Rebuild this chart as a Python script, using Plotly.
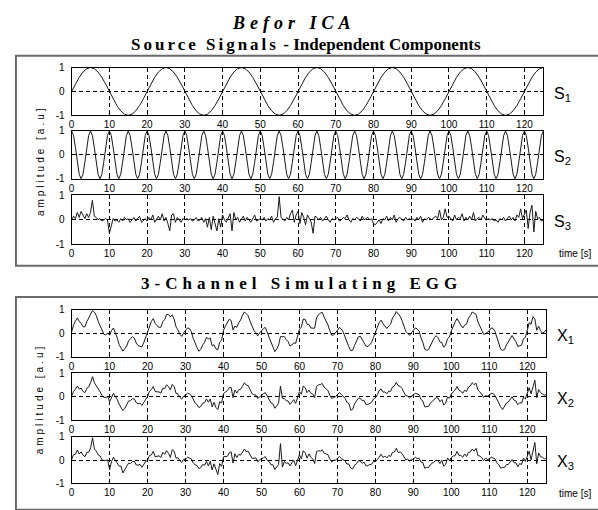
import plotly.graph_objects as go

W, H = 598, 510

# ---------------- data ----------------
t_coarse = [i for i in range(126)]          # s, 1 s step (S1)
t_fine = [i / 2 for i in range(251)]         # s, 0.5 s step (others)

s1 = [0, 0.31, 0.59, 0.81, 0.95, 1, 0.95, 0.81, 0.59, 0.31, 0, -0.31, -0.59, -0.81, -0.95, -1, -0.95, -0.81, -0.59, -0.31,
      0, 0.31, 0.59, 0.81, 0.95, 1, 0.95, 0.81, 0.59, 0.31, 0, -0.31, -0.59, -0.81, -0.95, -1, -0.95, -0.81, -0.59, -0.31,
      0, 0.31, 0.59, 0.81, 0.95, 1, 0.95, 0.81, 0.59, 0.31, 0, -0.31, -0.59, -0.81, -0.95, -1, -0.95, -0.81, -0.59, -0.31,
      0, 0.31, 0.59, 0.81, 0.95, 1, 0.95, 0.81, 0.59, 0.31, 0, -0.31, -0.59, -0.81, -0.95, -1, -0.95, -0.81, -0.59, -0.31,
      0, 0.31, 0.59, 0.81, 0.95, 1, 0.95, 0.81, 0.59, 0.31, 0, -0.31, -0.59, -0.81, -0.95, -1, -0.95, -0.81, -0.59, -0.31,
      0, 0.31, 0.59, 0.81, 0.95, 1, 0.95, 0.81, 0.59, 0.31, 0, -0.31, -0.59, -0.81, -0.95, -1, -0.95, -0.81, -0.59, -0.31,
      0, 0.31, 0.59, 0.81, 0.95, 1]

s2 = [1, 0.81, 0.31, -0.31, -0.81, -1, -0.81, -0.31, 0.31, 0.81, 1, 0.81, 0.31, -0.31, -0.81, -1, -0.81, -0.31, 0.31, 0.81,
      1, 0.81, 0.31, -0.31, -0.81, -1, -0.81, -0.31, 0.31, 0.81, 1, 0.81, 0.31, -0.31, -0.81, -1, -0.81, -0.31, 0.31, 0.81,
      1, 0.81, 0.31, -0.31, -0.81, -1, -0.81, -0.31, 0.31, 0.81, 1, 0.81, 0.31, -0.31, -0.81, -1, -0.81, -0.31, 0.31, 0.81,
      1, 0.81, 0.31, -0.31, -0.81, -1, -0.81, -0.31, 0.31, 0.81, 1, 0.81, 0.31, -0.31, -0.81, -1, -0.81, -0.31, 0.31, 0.81,
      1, 0.81, 0.31, -0.31, -0.81, -1, -0.81, -0.31, 0.31, 0.81, 1, 0.81, 0.31, -0.31, -0.81, -1, -0.81, -0.31, 0.31, 0.81,
      1, 0.81, 0.31, -0.31, -0.81, -1, -0.81, -0.31, 0.31, 0.81, 1, 0.81, 0.31, -0.31, -0.81, -1, -0.81, -0.31, 0.31, 0.81,
      1, 0.81, 0.31, -0.31, -0.81, -1, -0.81, -0.31, 0.31, 0.81, 1, 0.81, 0.31, -0.31, -0.81, -1, -0.81, -0.31, 0.31, 0.81,
      1, 0.81, 0.31, -0.31, -0.81, -1, -0.81, -0.31, 0.31, 0.81, 1, 0.81, 0.31, -0.31, -0.81, -1, -0.81, -0.31, 0.31, 0.81,
      1, 0.81, 0.31, -0.31, -0.81, -1, -0.81, -0.31, 0.31, 0.81, 1, 0.81, 0.31, -0.31, -0.81, -1, -0.81, -0.31, 0.31, 0.81,
      1, 0.81, 0.31, -0.31, -0.81, -1, -0.81, -0.31, 0.31, 0.81, 1, 0.81, 0.31, -0.31, -0.81, -1, -0.81, -0.31, 0.31, 0.81,
      1, 0.81, 0.31, -0.31, -0.81, -1, -0.81, -0.31, 0.31, 0.81, 1, 0.81, 0.31, -0.31, -0.81, -1, -0.81, -0.31, 0.31, 0.81,
      1, 0.81, 0.31, -0.31, -0.81, -1, -0.81, -0.31, 0.31, 0.81, 1, 0.81, 0.31, -0.31, -0.81, -1, -0.81, -0.31, 0.31, 0.81,
      1, 0.81, 0.31, -0.31, -0.81, -1, -0.81, -0.31, 0.31, 0.81,
      1]

s3 = [0.0, 0.15, 0.05, 0.3, 0.1, 0.35, 0.2, 0.05, 0.25, 0.1, 0.3, 0.8, 0.15, 0.1, 0.0, 0.05, -0.05, 0.0, 0.05, 0.0,
      -0.55, -0.25, 0.05, -0.05, 0.0, -0.1, 0.05, -0.05, 0.1, 0.0, 0.05, -0.1, 0.0, 0.1, -0.05, 0.05, 0.15, -0.1, 0.0, 0.05,
      -0.05, 0.1, 0.0, 0.2, -0.1, 0.05, 0.15, 0.0, 0.25, -0.05, 0.1, -0.15, -0.45, 0.2, 0.25, -0.1, 0.1, 0.0, -0.1, 0.05,
      0.0, 0.05, 0.0, 0.05, -0.05, 0.0, 0.1, -0.05, 0.0, 0.1, -0.1, 0.05, -0.3, 0.1, -0.4, 0.15, -0.2, -0.45, 0.05, -0.3,
      0.2, 0.0, -0.1, 0.1, 0.25, -0.45, 0.3, 0.0, 0.1, -0.1, 0.05, 0.15, -0.05, 0.1, 0.0, -0.1, 0.05, 0.2, -0.05, 0.0,
      0.05, 0.0, 0.1, -0.05, 0.05, 0.0, 0.15, -0.1, 0.05, 0.1, 0.95, 0.1, 0.0, -0.05, 0.1, 0.0, 0.25, 0.4, -0.1, 0.2,
      0.35, -0.15, 0.3, 0.1, -0.2, 0.2, 0.05, -0.1, -0.55, 0.15, 0.1, 0.0, 0.1, -0.05, 0.05, 0.15, 0.0, -0.1, 0.05, 0.0,
      0.05, 0.1, -0.05, 0.0, 0.1, 0.05, 0.2, 0.0, -0.1, 0.05, 0.0, 0.1, 0.05, -0.05, 0.15, 0.0, 0.05, 0.1, 0.0, 0.05,
      -0.15, -0.2, -0.1, 0.0, -0.15, 0.05, 0.0, 0.15, -0.05, 0.1, 0.0, 0.2, -0.1, 0.05, 0.1, 0.0, -0.05, 0.1, 0.0, 0.05,
      0.0, 0.05, -0.05, 0.1, 0.0, 0.15, -0.1, 0.05, 0.0, 0.1, 0.05, 0.0, 0.1, 0.15, 0.05, 0.4, 0.0, 0.1, 0.45, 0.1,
      0.15, 0.05, -0.05, 0.2, 0.0, 0.1, 0.05, 0.25, -0.05, 0.1, 0.0, 0.15, 0.0, 0.3, -0.05, 0.05, 0.1, 0.0, 0.2, 0.05,
      0.0, 0.05, 0.0, 0.05, -0.05, 0.0, -0.1, 0.05, 0.0, 0.1, -0.05, 0.05, 0.15, 0.0, 0.1, -0.05, 0.2, 0.1, 0.45, 0.05,
      0.2, 0.4, -0.35, 0.3, 0.6, -0.5, 0.35, 0.05, 0.1, -0.05, 0.0]

x1 = [0.05, 0.35, 0.52, 0.65, 0.49, 0.42, 0.27, 0.27, 0.49, 0.64, 0.85, 0.97, 0.9, 0.74, 0.5, 0.32, 0.08, -0.05, -0.08, 0.0,
      -0.09, 0.11, 0.22, 0.03, -0.2, -0.49, -0.63, -0.77, -0.66, -0.55, -0.33, -0.24, -0.15, -0.21, -0.42, -0.53, -0.55, -0.59, -0.4, -0.18,
      0.03, 0.34, 0.5, 0.62, 0.41, 0.32, 0.25, 0.25, 0.49, 0.58, 0.79, 0.8, 0.69, 0.77, 0.59, 0.26, 0.14, -0.05, -0.14, 0.02,
      0.1, 0.22, 0.2, 0.07, -0.22, -0.45, -0.61, -0.77, -0.7, -0.51, -0.39, -0.18, -0.25, -0.21, -0.54, -0.5, -0.67, -0.71, -0.38, -0.3,
      0.12, 0.3, 0.46, 0.59, 0.54, 0.14, 0.3, 0.25, 0.44, 0.56, 0.77, 0.9, 0.83, 0.74, 0.5, 0.26, 0.12, 0.02, -0.12, 0.0,
      0.12, 0.2, 0.24, 0.03, -0.18, -0.45, -0.6, -0.79, -0.68, -0.51, -0.15, -0.16, -0.15, -0.27, -0.36, -0.55, -0.51, -0.41, -0.44, -0.13,
      0.17, 0.25, 0.6, 0.59, 0.38, 0.37, 0.22, 0.21, 0.21, 0.65, 0.79, 0.85, 0.89, 0.68, 0.52, 0.35, 0.1, -0.09, -0.08, 0.0,
      0.12, 0.24, 0.18, 0.05, -0.16, -0.43, -0.58, -0.75, -0.74, -0.53, -0.35, -0.16, -0.13, -0.27, -0.35, -0.55, -0.58, -0.51, -0.4, -0.18,
      0.0, 0.23, 0.46, 0.55, 0.4, 0.32, 0.2, 0.3, 0.38, 0.64, 0.75, 0.92, 0.81, 0.72, 0.54, 0.3, 0.08, -0.01, -0.1, 0.02,
      0.1, 0.22, 0.18, 0.09, -0.2, -0.4, -0.69, -0.73, -0.7, -0.51, -0.33, -0.2, -0.11, -0.2, -0.38, -0.41, -0.6, -0.51, -0.24, -0.16,
      0.1, 0.32, 0.48, 0.62, 0.45, 0.34, 0.22, 0.34, 0.38, 0.64, 0.75, 0.9, 0.85, 0.8, 0.48, 0.32, 0.14, -0.05, -0.03, 0.02,
      0.1, 0.22, 0.2, 0.07, -0.22, -0.45, -0.69, -0.73, -0.7, -0.51, -0.37, -0.18, -0.1, -0.25, -0.36, -0.57, -0.53, -0.51, -0.24, -0.18,
      0.12, 0.44, 0.38, 0.7, 0.6, 0.12, 0.3, 0.1, 0.0, 0.05, 0.15]

x2 = [0.03, 0.22, 0.32, 0.45, 0.32, 0.36, 0.22, 0.17, 0.36, 0.41, 0.6, 0.85, 0.59, 0.47, 0.3, 0.2, 0.04, -0.03, -0.04, 0.0,
      -0.22, 0.0, 0.14, 0.01, -0.12, -0.32, -0.45, -0.6, -0.5, -0.33, -0.19, -0.17, -0.09, -0.1, -0.26, -0.31, -0.28, -0.38, -0.24, -0.1,
      0.01, 0.23, 0.3, 0.43, 0.22, 0.2, 0.2, 0.15, 0.36, 0.34, 0.5, 0.43, 0.29, 0.52, 0.42, 0.13, 0.11, -0.03, -0.11, 0.02,
      0.06, 0.14, 0.12, 0.05, -0.14, -0.27, -0.34, -0.47, -0.42, -0.28, -0.26, -0.1, -0.24, -0.1, -0.44, -0.25, -0.46, -0.55, -0.22, -0.27,
      0.13, 0.18, 0.25, 0.38, 0.39, -0.04, 0.27, 0.15, 0.29, 0.31, 0.47, 0.59, 0.49, 0.47, 0.3, 0.13, 0.08, 0.07, -0.08, 0.0,
      0.08, 0.12, 0.17, 0.01, -0.1, -0.27, -0.31, -0.5, -0.4, -0.28, 0.45, -0.07, -0.09, -0.17, -0.19, -0.33, -0.24, -0.13, -0.29, -0.02,
      0.21, 0.1, 0.45, 0.38, 0.17, 0.28, 0.14, 0.1, -0.04, 0.44, 0.5, 0.51, 0.56, 0.4, 0.32, 0.26, 0.06, -0.08, -0.04, 0.0,
      0.08, 0.17, 0.1, 0.03, -0.07, -0.25, -0.29, -0.58, -0.55, -0.31, -0.21, -0.07, -0.07, -0.17, -0.16, -0.33, -0.34, -0.28, -0.24, -0.1,
      -0.05, 0.08, 0.25, 0.33, 0.19, 0.2, 0.12, 0.23, 0.22, 0.41, 0.45, 0.61, 0.46, 0.44, 0.35, 0.18, 0.04, 0.02, -0.06, 0.02,
      0.06, 0.14, 0.1, 0.08, -0.12, -0.19, -0.44, -0.43, -0.42, -0.28, -0.19, -0.12, -0.04, -0.07, -0.22, -0.13, -0.36, -0.28, -0.02, -0.07,
      0.11, 0.2, 0.28, 0.43, 0.27, 0.23, 0.14, 0.27, 0.22, 0.41, 0.45, 0.59, 0.51, 0.57, 0.28, 0.2, 0.11, -0.03, 0.04, 0.02,
      0.06, 0.14, 0.12, 0.05, -0.14, -0.27, -0.44, -0.55, -0.42, -0.28, -0.23, -0.1, -0.01, -0.15, -0.19, -0.35, -0.26, -0.28, -0.02, -0.1,
      0.13, 0.38, 0.12, 0.48, 0.7, -0.05, 0.3, 0.17, 0.1, 0.05, 0.1]

x3 = [0.02, 0.23, 0.25, 0.43, 0.26, 0.35, 0.21, 0.14, 0.33, 0.33, 0.52, 0.95, 0.47, 0.38, 0.22, 0.17, 0.01, -0.02, -0.01, 0.0,
      -0.42, -0.06, 0.12, -0.01, -0.09, -0.26, -0.26, -0.55, -0.4, -0.25, -0.13, -0.15, -0.07, -0.05, -0.21, -0.22, -0.18, -0.31, -0.18, -0.06,
      -0.01, 0.2, 0.22, 0.37, 0.14, 0.17, 0.18, 0.11, 0.33, 0.24, 0.4, 0.29, 0.11, 0.44, 0.37, 0.08, 0.1, -0.02, -0.1, 0.03,
      0.04, 0.12, 0.09, 0.05, -0.12, -0.2, -0.23, -0.37, -0.32, -0.19, -0.22, -0.06, -0.25, -0.05, -0.42, -0.16, -0.39, -0.62, -0.15, -0.27,
      0.14, 0.14, 0.16, 0.31, 0.35, -0.13, 0.27, 0.11, 0.24, 0.21, 0.37, 0.47, 0.35, 0.38, 0.22, 0.08, 0.07, 0.1, -0.07, 0.0,
      0.07, 0.09, 0.15, -0.01, -0.06, -0.2, -0.2, -0.4, -0.29, -0.19, 0.7, -0.3, -0.07, -0.14, -0.12, -0.25, -0.12, -0.01, -0.24, 0.03,
      0.23, 0.05, 0.4, 0.31, 0.08, 0.26, 0.12, 0.05, -0.15, 0.36, 0.4, 0.38, 0.44, 0.29, 0.25, 0.23, 0.04, -0.08, -0.01, 0.0,
      0.07, 0.15, 0.06, 0.02, -0.03, -0.17, -0.17, -0.34, -0.38, -0.22, -0.16, -0.03, -0.04, -0.14, -0.09, -0.25, -0.24, -0.19, -0.18, -0.06,
      -0.07, 0.02, 0.16, 0.25, 0.11, 0.17, 0.09, 0.2, 0.15, 0.33, 0.34, 0.5, 0.32, 0.35, 0.28, 0.14, 0.01, 0.04, -0.04, 0.03,
      0.04, 0.12, 0.06, 0.08, -0.09, -0.11, -0.35, -0.31, -0.32, -0.19, -0.13, -0.09, -0.01, -0.02, -0.15, -0.01, -0.27, -0.19, 0.09, -0.03,
      0.11, 0.17, 0.19, 0.37, 0.2, 0.2, 0.12, 0.26, 0.15, 0.33, 0.34, 0.47, 0.38, 0.5, 0.19, 0.17, 0.1, -0.02, 0.08, 0.03,
      0.04, 0.12, 0.09, 0.05, -0.12, -0.2, -0.35, -0.31, -0.32, -0.19, -0.19, -0.06, 0.02, -0.11, -0.12, -0.28, -0.15, -0.19, 0.09, -0.06,
      0.14, 0.38, 0.01, 0.43, 0.75, -0.16, 0.3, 0.14, 0.12, 0.05, 0.1]

x_ticks = [0, 10, 20, 30, 40, 50, 60, 70, 80, 90, 100, 110, 120]
y_ticks = [-1, 0, 1]
y_ticktext = ["-1", "0", "1"]
row_labels = ["S<sub>1</sub>", "S<sub>2</sub>", "S<sub>3</sub>",
              "X<sub>1</sub>", "X<sub>2</sub>", "X<sub>3</sub>"]

# ---------------- layout helpers ----------------
def px_x(p):
    return p / W


def px_y(p):
    return 1 - p / H


# pixel boxes of the six plot areas: (left, right, top, bottom)
rows_px = [(69, 543, 63, 112), (69, 543, 128, 177), (69, 543, 194, 244),
           (69, 546, 311, 359), (69, 546, 376, 424), (69, 546, 441, 489)]

series = [(t_coarse, s1), (t_fine, s2), (t_fine, s3),
          (t_fine, x1), (t_fine, x2), (t_fine, x3)]

fig = go.Figure()
TICKFONT = dict(family="Liberation Sans, Arial, sans-serif", size=10, color="black")

for i, ((xs, ys), (l, r, tp, bt)) in enumerate(zip(series, rows_px)):
    n = "" if i == 0 else str(i + 1)
    fig.add_trace(go.Scatter(x=xs, y=ys, mode="lines",
                             line=dict(color="#1a1a1a", width=1),
                             xaxis="x" + n, yaxis="y" + n,
                             showlegend=False, hoverinfo="skip"))
    common = dict(showline=True, linecolor="black", linewidth=1, mirror="ticks",
                  ticks="inside", ticklen=3, tickcolor="black", tickwidth=1,
                  showgrid=True, gridcolor="black", gridwidth=1, griddash="4px,3px",
                  zeroline=False, tickfont=TICKFONT, fixedrange=True)
    fig.layout["xaxis" + n] = dict(domain=[px_x(l), px_x(r)], range=[0, 125],
                                   tickvals=x_ticks, ticktext=[str(v) for v in x_ticks],
                                   anchor="y" + n, **common)
    fig.layout["yaxis" + n] = dict(domain=[px_y(bt), px_y(tp)], range=[-1, 1],
                                   tickvals=y_ticks, ticktext=y_ticktext,
                                   ticklabelstandoff=4,
                                   anchor="x" + n, **common)
    fig.add_annotation(xref="paper", yref="paper", x=px_x(r + 9), y=px_y((tp + bt) / 2 + 3),
                       xanchor="left", yanchor="middle", showarrow=False,
                       text=row_labels[i],
                       font=dict(family="Liberation Sans, Arial, sans-serif", size=16, color="black"))

# time [s] labels
for yy in (253, 499):
    fig.add_annotation(xref="paper", yref="paper", x=px_x(557), y=px_y(yy),
                       xanchor="left", yanchor="middle", showarrow=False, text="time [s]",
                       font=dict(family="Liberation Sans, Arial, sans-serif", size=10, color="black"))

# y titles
for yy in (158, 402):
    fig.add_annotation(xref="paper", yref="paper", x=px_x(37), y=px_y(yy),
                       xanchor="center", yanchor="middle", showarrow=False, textangle=-90,
                       text="<span style='letter-spacing:3px'>amplitude [a.u]</span>",
                       font=dict(family="Liberation Sans, Arial, sans-serif", size=10, color="black"))

# titles
SERIF = "Liberation Serif, Times New Roman, serif"
fig.add_annotation(xref="paper", yref="paper", x=px_x(292), y=px_y(17),
                   xanchor="center", yanchor="middle", showarrow=False,
                   text="<b><i><span style='letter-spacing:5px'>Befor ICA</span></i></b>",
                   font=dict(family=SERIF, size=18, color="black"))
fig.add_annotation(xref="paper", yref="paper", x=px_x(305), y=px_y(39),
                   xanchor="center", yanchor="middle", showarrow=False,
                   text="<b><span style='letter-spacing:3px'>Source Signals</span> - Independent Components</b>",
                   font=dict(family=SERIF, size=17, color="black"))
fig.add_annotation(xref="paper", yref="paper", x=px_x(300), y=px_y(284),
                   xanchor="center", yanchor="middle", showarrow=False,
                   text="<b><span style='letter-spacing:5px'>3-Channel Simulating EGG</span></b>",
                   font=dict(family=SERIF, size=17, color="black"))

# frames around the two groups
fig.add_shape(type="rect", xref="paper", yref="paper",
              x0=px_x(13), x1=px_x(606), y0=px_y(266), y1=px_y(51),
              line=dict(color="#6a6a6a", width=2), fillcolor="rgba(0,0,0,0)", layer="below")
fig.add_shape(type="rect", xref="paper", yref="paper",
              x0=px_x(13), x1=px_x(606), y0=px_y(516), y1=px_y(298),
              line=dict(color="#6a6a6a", width=2), fillcolor="rgba(0,0,0,0)", layer="below")

fig.update_layout(width=W, height=H, margin=dict(l=0, r=0, t=0, b=0),
                  paper_bgcolor="white", plot_bgcolor="white", showlegend=False)

fig.write_html("out.html", config={"displayModeBar": False})
